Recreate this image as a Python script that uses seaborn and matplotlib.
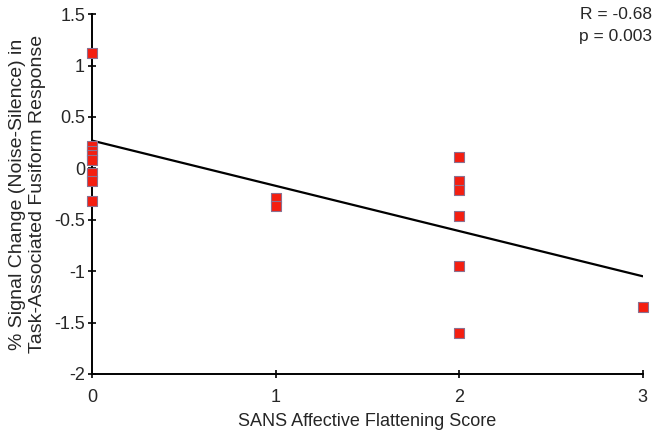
import matplotlib
matplotlib.use("Agg")
import matplotlib.pyplot as plt
import pandas as pd
import seaborn as sns

# SANS score and % signal change
sans_score = [0, 0, 0, 0, 0, 0, 0, 0,
              1, 1,
              2, 2, 2, 2, 2, 2,
              3]
signal_change = [1.12, 0.22, 0.17, 0.13, 0.08, -0.05, -0.12, -0.32,
                 -0.29, -0.37,
                 0.11, -0.12, -0.21, -0.46, -0.95, -1.60,
                 -1.35]

# fitted line endpoints as drawn in the reference
fit_x = [0, 3]
fit_y = [0.27, -1.05]

x_ticks = [0, 1, 2, 3]
y_ticks = [-2, -1.5, -1, -0.5, 0, 0.5, 1, 1.5]
y_tick_labels = ["-2", "-1.5", "-1", "-0.5", "0", "0.5", "1", "1.5"]

df = pd.DataFrame({"score": sans_score, "change": signal_change})
fit = pd.DataFrame({"score": fit_x, "change": fit_y})

sns.set_style("ticks")
plt.rcParams["font.family"] = ["Liberation Sans", "DejaVu Sans"]

fig = plt.figure(figsize=(6.64, 4.42), dpi=100)
ax = fig.add_axes([0.1386, 0.154, 0.8294, 0.814])

sns.lineplot(data=fit, x="score", y="change", color="black", linewidth=1.6, ax=ax)
sns.scatterplot(data=df, x="score", y="change", marker="s", s=60,
                color="#f41e10", edgecolor="#8c7090", linewidth=0.8,
                zorder=3, clip_on=False, ax=ax)

ax.set_xlim(0, 3)
ax.set_ylim(-2, 1.5)
ax.set_xticks(x_ticks)
ax.set_yticks(y_ticks)
ax.set_yticklabels(y_tick_labels)
ax.tick_params(direction="inout", length=6, width=1.2, labelsize=13, color="black", pad=2)
ax.tick_params(axis="x", pad=8)
for s in ["top", "right"]:
    ax.spines[s].set_visible(False)
for s in ["left", "bottom"]:
    ax.spines[s].set_linewidth(1.4)
    ax.spines[s].set_color("black")

ax.set_xlabel("SANS Affective Flattening Score", fontsize=13, labelpad=5)
ax.set_ylabel("% Signal Change (Noise-Silence) in\nTask-Associated Fusiform Response",
              fontsize=14, labelpad=6, linespacing=1.2)

fig.text(0.982, 0.985, "R = -0.68\np = 0.003", ha="right", va="top", fontsize=12.5,
         linespacing=1.6)

fig.savefig("out.png", dpi=100)
